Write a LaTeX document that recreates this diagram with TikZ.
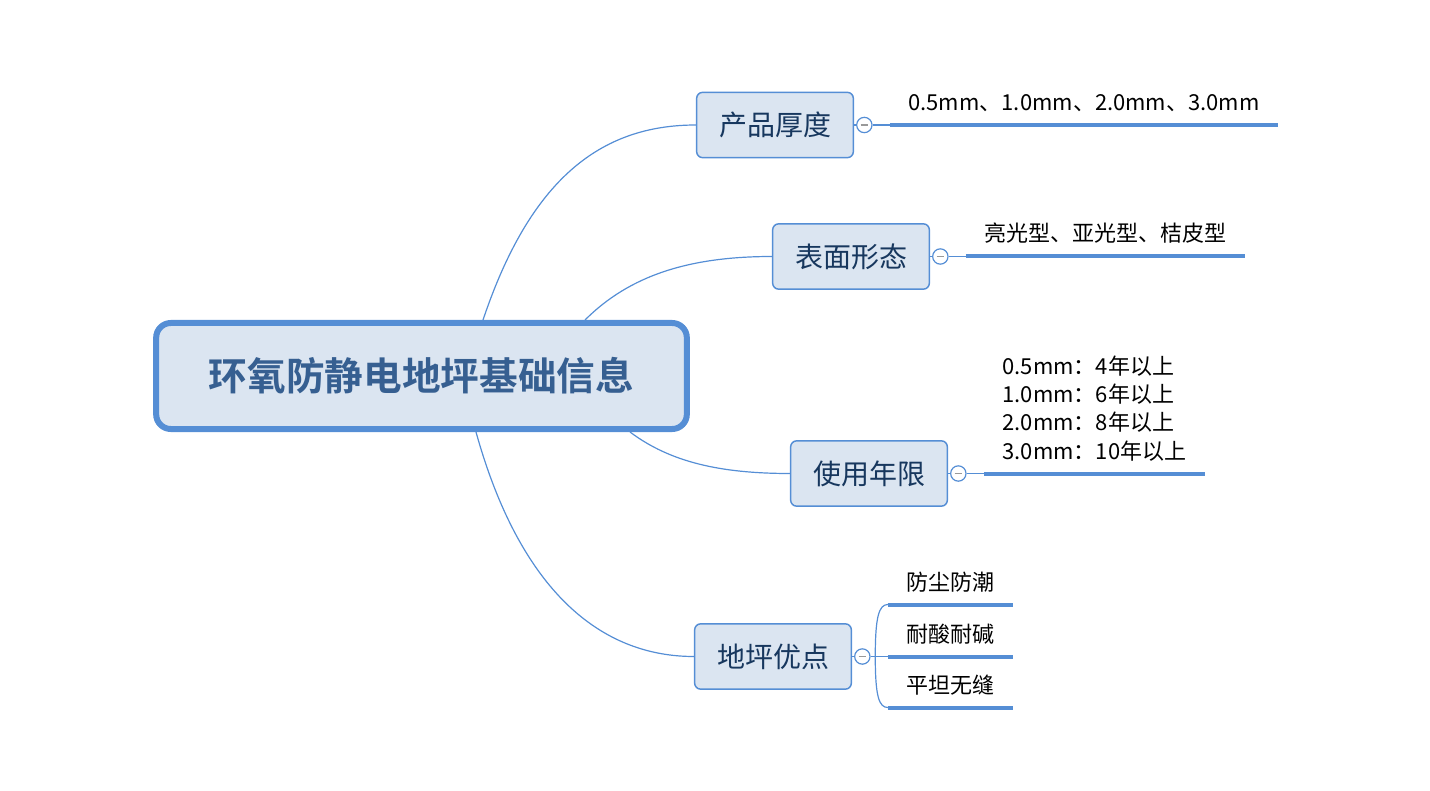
\documentclass[tikz,border=0pt]{standalone}
\usepackage{fontspec}
\setmainfont{Noto Sans CJK SC}[BoldFont={Noto Sans CJK SC Bold}]
\usepackage{tikz}
\usetikzlibrary{positioning}
\usetikzlibrary{calc}
\definecolor{mapblue}{RGB}{85,142,213}
\definecolor{mapfill}{RGB}{219,229,241}
\definecolor{roottext}{RGB}{54,95,145}
\definecolor{cattext}{RGB}{23,55,94}
\tikzset{every picture/.style={line width=0.75pt}}
\tikzset{
  rootbox/.style={draw=mapblue,fill=mapfill,line width=4.5pt,rounded corners=11pt,
    minimum width=398pt,minimum height=79.5pt,text=roottext,
    font=\fontsize{29}{34}\selectfont\bfseries},
  catbox/.style={draw=mapblue,fill=mapfill,line width=1.1pt,rounded corners=4.5pt,
    minimum width=117.5pt,minimum height=49pt,text=cattext,
    font=\fontsize{21}{25}\selectfont},
  foldmark/.style={circle,draw=mapblue,fill=white,line width=0.9pt,minimum size=11.5pt,inner sep=0pt,
    path picture={\draw[line width=0.9pt,black!40] ([xshift=-2.8pt]path picture bounding box.center) -- ([xshift=2.8pt]path picture bounding box.center);}},
  leaf/.style={inner xsep=13.5pt,inner ysep=10.5pt,text depth=0pt,align=left,
    font=\fontsize{16.5}{21.25}\selectfont},
  link/.style={draw=mapblue,line width=0.9pt},
  leafline/.style={draw=mapblue,line width=3pt},
}

\begin{document}
\begin{tikzpicture}[x=0.75pt,y=0.75pt,yscale=-1]
\useasboundingbox (0,0) rectangle (1430,791);

% Central topic
\node[rootbox] (root) at (421.5,376) {环氧防静电地坪基础信息};

% Main topics
\node[catbox] (thick) at (775,125) {产品厚度};
\node[catbox] (surf) at (851,256.5) {表面形态};
\node[catbox] (life) at (869,473.5) {使用年限};
\node[catbox] (merit) at (773,656.5) {地坪优点};

%Curve Lines
\draw[link] ($(root.north)+(61.5,0)$) .. controls +(47,-140) and +(-96,0) .. (thick.west);
\draw[link] ($(root.north)+(163.5,0)$) .. controls +(45,-45) and +(-82,0) .. (surf.west);
\draw[link] ($(root.south)+(208.5,0)$) .. controls +(40,30) and +(-70,0) .. (life.west);
\draw[link] ($(root.south)+(54.5,0)$) .. controls +(44,158) and +(-94,0) .. (merit.west);

% Fold marks
\node[foldmark, right=1.5pt of thick] (thickfold) {};
\node[foldmark, right=1.5pt of surf] (surffold) {};
\node[foldmark, right=1.5pt of life] (lifefold) {};
\node[foldmark, right=1.5pt of merit] (meritfold) {};
\draw[link] (thick) -- (thickfold);
\draw[link] (surf) -- (surffold);
\draw[link] (life) -- (lifefold);
\draw[link] (merit) -- (meritfold);

% Leaves
\node[leaf, minimum width=290.25pt, right=13pt of thickfold.east, anchor=south west] (thickleaf) {0.5mm、1.0mm、2.0mm、3.0mm};
\node[leaf, minimum width=205.5pt, right=13pt of surffold.east, anchor=south west] (surfleaf) {亮光型、亚光型、桔皮型};
\node[leaf, minimum width=165pt, right=13pt of lifefold.east, anchor=south west] (lifeleaf) {0.5mm：4年以上\\1.0mm：6年以上\\2.0mm：8年以上\\3.0mm：10年以上};
\draw[link] (thickfold) -- (thickleaf.south west);
\draw[link] (surffold) -- (surfleaf.south west);
\draw[link] (lifefold) -- (lifeleaf.south west);
\draw[leafline] (thickleaf.south west) -- (thickleaf.south east);
\draw[leafline] (surfleaf.south west) -- (surfleaf.south east);
\draw[leafline] (lifeleaf.south west) -- (lifeleaf.south east);

% Advantages
\coordinate[right=3.5pt of meritfold.east] (fork);
\node[leaf, minimum width=93pt, right=13pt of meritfold.east, anchor=south west] (adv2) {耐酸耐碱};
\node[leaf, minimum width=93pt, anchor=south west] (adv1) at ($(adv2.south west)+(0,-52)$) {防尘防潮};
\node[leaf, minimum width=93pt, anchor=south west] (adv3) at ($(adv2.south west)+(0,51)$) {平坦无缝};
\draw[link] (meritfold) -- (fork);
\draw[link] (fork) .. controls +(0,-40) and +(-9,0) .. (adv1.south west);
\draw[link] (fork) -- (adv2.south west);
\draw[link] (fork) .. controls +(0,40) and +(-9,0) .. (adv3.south west);
\draw[leafline] (adv1.south west) -- (adv1.south east);
\draw[leafline] (adv2.south west) -- (adv2.south east);
\draw[leafline] (adv3.south west) -- (adv3.south east);

\end{tikzpicture}
\end{document}
